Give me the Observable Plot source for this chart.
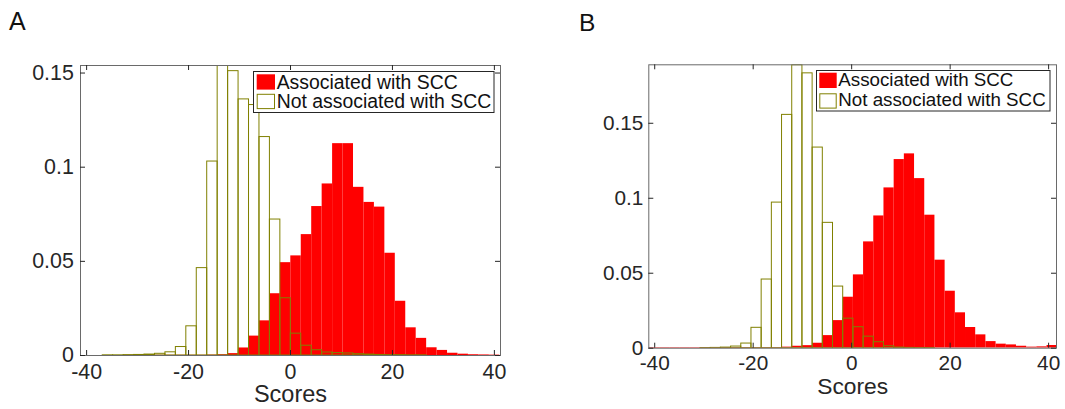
<!DOCTYPE html>
<html><head><meta charset="utf-8">
<script src="https://cdn.jsdelivr.net/npm/d3@7"></script>
<script src="https://cdn.jsdelivr.net/npm/@observablehq/plot@0.6"></script>
<style>
body{margin:0;background:#fff;}
#root{position:relative;width:1065px;height:409px;overflow:hidden;font-family:"Liberation Sans",Arial,Helvetica,sans-serif;color:#262626;}
#root > svg{position:absolute;top:0;}
</style></head><body><div id="root"></div>
<script>
// ---- data ----
const edgesA = [-40.94,-38.89,-36.84,-34.79,-32.74,-30.69,-28.64,-26.59,-24.54,-22.49,-20.44,-18.39,-16.34,-14.29,-12.24,-10.19,-8.14,-6.09,-4.04,-1.99,0.06,2.11,4.16,6.21,8.26,10.31,12.36,14.41,16.46,18.51,20.56,22.61,24.66,26.71,28.76,30.81,32.86,34.91,36.96,39.01,41.06];
const assocA = [0,0,0,0,0.0001,0.0001,0.0001,0.0001,0.0001,0.0001,0.0001,0.0001,0.0002,0.0004,0.001,0.004,0.0103,0.0184,0.0328,0.0493,0.0529,0.0642,0.0791,0.0911,0.1125,0.1125,0.0893,0.0813,0.0788,0.0543,0.0288,0.0147,0.0091,0.0041,0.0027,0.0012,0.0007,0.0004,0.0003,0.0002];
const notAssocA = [0,0,0.0001,0.0001,0.0002,0.0003,0.0005,0.0009,0.0017,0.0045,0.0155,0.0464,0.103,0.154,0.151,0.136,0.133,0.116,0.0722,0.0304,0.0116,0.0052,0.0028,0.0016,0.0013,0.0011,0.0007,0.0005,0.0003,0.0002,0.0002,0.0001,0.0001,0,0,0,0,0,0,0];

const edgesB = [-41.05,-38.98,-36.91,-34.84,-32.77,-30.70,-28.63,-26.56,-24.49,-22.42,-20.35,-18.28,-16.21,-14.14,-12.07,-10.00,-7.93,-5.86,-3.79,-1.72,0.35,2.42,4.49,6.56,8.63,10.70,12.77,14.84,16.91,18.98,21.05,23.12,25.19,27.26,29.33,31.40,33.47,35.54,37.61,39.68,41.75];
const assocB = [0.0004,0.0004,0.0004,0.0004,0.0004,0.0004,0.0004,0.0004,0.0004,0.0004,0.0004,0.0004,0.0004,0.0007,0.0013,0.0017,0.0033,0.0084,0.0184,0.034,0.0489,0.0709,0.0882,0.1069,0.1258,0.1296,0.1131,0.0887,0.0587,0.038,0.0236,0.0138,0.0089,0.0044,0.0027,0.0022,0.0013,0.0007,0.0009,0.0018];
const notAssocB = [0,0,0,0,0,0.0001,0.0002,0.0004,0.0011,0.0031,0.0136,0.0458,0.0971,0.1556,0.1887,0.1833,0.1338,0.0836,0.0411,0.0197,0.014,0.0077,0.004,0.0013,0.0004,0.0002,0.0001,0.0001,0,0,0,0,0,0,0,0,0,0,0,0];

const xTicks = [-40, -20, 0, 20, 40];
const yTicks = [0, 0.05, 0.1, 0.15];
const seriesNames = ["Associated with SCC", "Not associated with SCC"];
const xLabel = "Scores";
const panelLetters = ["A", "B"];

const RED = "#ff0000", OLIVE = "#808000", INK = "#262626", FRAME = "#6a6a6a";
const FONT = '"Liberation Sans", Arial, Helvetica, sans-serif';

function bins(edges, values) {
  return values.map((v, i) => ({x1: edges[i], x2: edges[i + 1], y: v}));
}

function panel(cfg) {
  const {edges, assoc, notAssoc, width, height, mt, mr, mb, ml, xDomain, yDomain, fs, labelFs, padX, padY, labelDy} = cfg;
  const pw = width - ml - mr, ph = height - mt - mb;
  return Plot.plot({
    width, height, marginTop: mt, marginRight: mr, marginBottom: mb, marginLeft: ml,
    x: {domain: xDomain},
    y: {domain: yDomain},
    style: {fontFamily: FONT, fontSize: fs + "px", color: INK, background: "transparent", overflow: "visible"},
    marks: [
      Plot.rect(bins(edges, assoc), {x1: "x1", x2: "x2", y1: () => 0, y2: "y", fill: RED, clip: true}),
      Plot.rect(bins(edges, notAssoc), {x1: "x1", x2: "x2", y1: () => 0, y2: "y", fill: "none", stroke: OLIVE, strokeWidth: 1, clip: true}),
      Plot.frame({stroke: FRAME, strokeWidth: 1}),
      Plot.tickX(xTicks, {x: d => d, insetTop: ph - 5, stroke: INK}),
      Plot.tickX(xTicks, {x: d => d, insetBottom: ph - 5, stroke: INK}),
      Plot.tickY(yTicks, {y: d => d, insetRight: pw - 5, stroke: INK}),
      Plot.tickY(yTicks, {y: d => d, insetLeft: pw - 5, stroke: INK}),
      Plot.axisX(xTicks, {tickSize: 0, tickPadding: padX, tickFormat: d => String(d), fontSize: fs, label: null}),
      Plot.axisY(yTicks, {tickSize: 0, tickPadding: padY, tickFormat: d => String(d), fontSize: fs, label: null}),
      Plot.text([xLabel], {text: d => d, frameAnchor: "bottom", dy: labelDy, lineAnchor: "top", fontSize: labelFs, fill: INK})
    ]
  });
}

const root = document.getElementById("root");

const svgA = panel({edges: edgesA, assoc: assocA, notAssoc: notAssocA, width: 530, height: 409,
  mt: 65, mr: 30, mb: 54, ml: 80, xDomain: [-41.2, 41.2], yDomain: [0, 0.154],
  fs: 21.4, labelFs: 23.5, padX: 8, padY: 6.7, labelDy: 29.7});
svgA.style.left = "0px";
root.appendChild(svgA);

const svgB = panel({edges: edgesB, assoc: assocB, notAssoc: notAssocB, width: 525, height: 409,
  mt: 64.3, mr: 9, mb: 61.3, ml: 108.3, xDomain: [-41.2, 41.6], yDomain: [0, 0.189],
  fs: 20.8, labelFs: 22.8, padX: 7.3, padY: 5.4, labelDy: 29.5});
svgB.style.left = "540px";
root.appendChild(svgB);

// ---- overlay: panel letters and legends ----
const ov = d3.select(root).append("svg")
  .attr("width", 1065).attr("height", 409)
  .style("position", "absolute").style("left", "0px").style("top", "0px")
  .style("pointer-events", "none")
  .attr("font-family", FONT);

ov.append("text").attr("x", 9).attr("y", 30).attr("font-size", 25).attr("fill", "#111").text(panelLetters[0]);
ov.append("text").attr("x", 579).attr("y", 30.7).attr("font-size", 24.5).attr("fill", "#111").text(panelLetters[1]);

function legend(g, o) {
  g.append("rect").attr("x", o.x).attr("y", o.y).attr("width", o.w).attr("height", o.h)
    .attr("fill", "#fff").attr("stroke", INK).attr("stroke-width", 1);
  g.append("rect").attr("x", o.sx).attr("y", o.s1y).attr("width", o.sw).attr("height", o.sh).attr("fill", RED);
  g.append("rect").attr("x", o.sx + 0.5).attr("y", o.s2y + 0.5).attr("width", o.sw - 1).attr("height", o.sh - 1)
    .attr("fill", "#fff").attr("stroke", OLIVE).attr("stroke-width", 1);
  g.append("text").attr("x", o.tx).attr("y", o.b1).attr("font-size", o.fs).attr("fill", "#111").text(seriesNames[0]);
  g.append("text").attr("x", o.tx).attr("y", o.b2).attr("font-size", o.fs).attr("fill", "#111").text(seriesNames[1]);
}
legend(ov, {x: 253.5, y: 71.5, w: 240.5, h: 41, sx: 256.7, s1y: 74.3, s2y: 93.8, sw: 18.3, sh: 15.3, tx: 276.7, b1: 88.7, b2: 107.7, fs: 19.4});
legend(ov, {x: 816.5, y: 70.5, w: 233.5, h: 40.5, sx: 819.3, s1y: 72.7, s2y: 93.3, sw: 17.4, sh: 15.3, tx: 838.3, b1: 86, b2: 106, fs: 18.75});
</script>
</body></html>
